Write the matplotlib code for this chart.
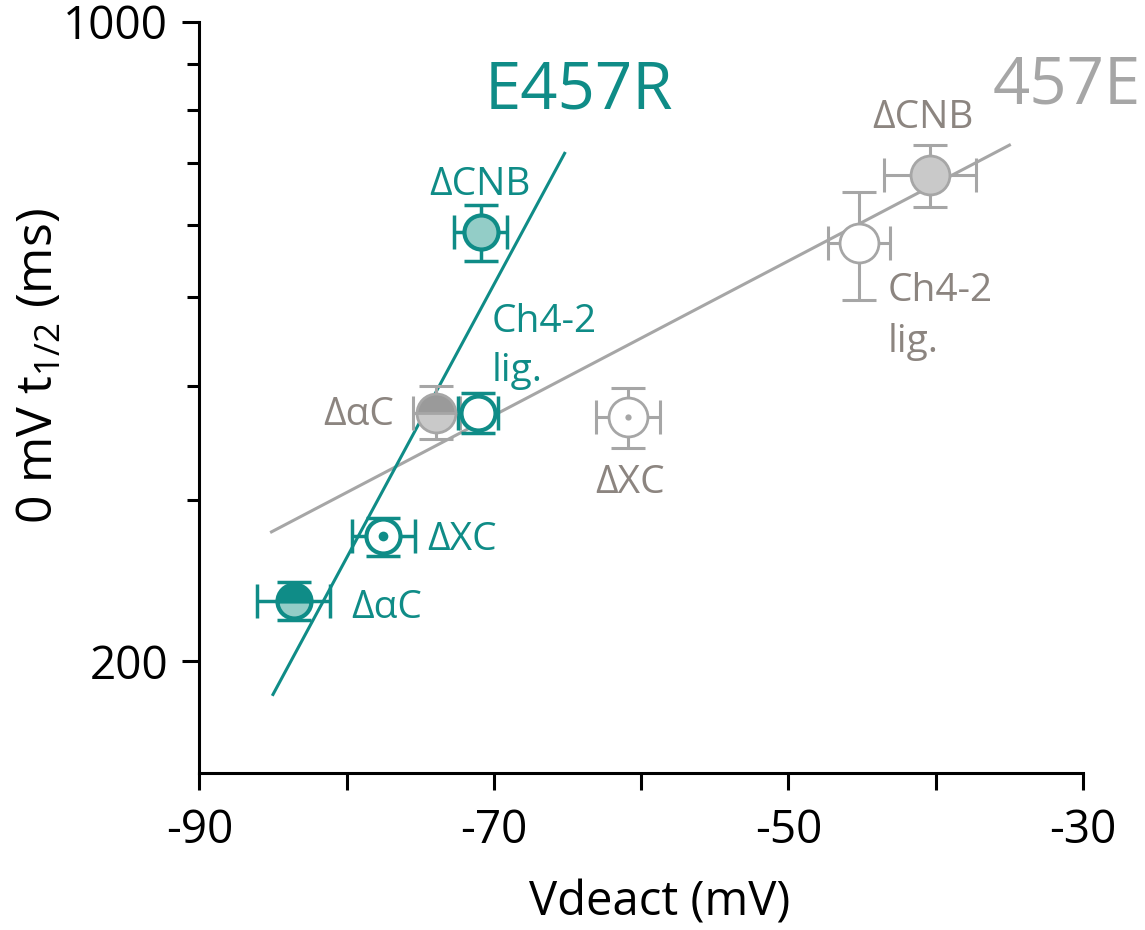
import numpy as np
import matplotlib
matplotlib.use("Agg")
import matplotlib.pyplot as plt
from matplotlib.ticker import FixedLocator, FixedFormatter, NullFormatter

plt.rcParams['font.family'] = ['Open Sans', 'DejaVu Sans']
plt.rcParams['mathtext.fontset'] = 'custom'
plt.rcParams['mathtext.rm'] = 'Open Sans'
plt.rcParams['mathtext.it'] = 'Open Sans'

# E457R (teal): dCNB, Ch4-2 lig., dXC, dalphaC
teal_x = [-70.9, -71.1, -77.5, -83.6]
teal_y = [589, 374, 274, 233]
teal_xerr = [1.8, 1.35, 2.15, 2.5]
teal_ylo = [548, 355, 261, 222]
teal_yhi = [630, 393, 287, 244]
teal_kind = ['filled', 'open', 'dot', 'half']

# 457E (gray): dCNB, Ch4-2 lig., dXC, dalphaC
gray_x = [-40.4, -45.2, -60.9, -73.9]
gray_y = [680, 573, 370, 374]
gray_xerr = [3.1, 2.1, 2.2, 1.6]
gray_ylo = [628, 497, 342, 350]
gray_yhi = [733, 652, 398, 400]
gray_kind = ['filled', 'open', 'dot', 'half']

# fit lines
teal_fit_x = [-85.0, -65.2]
teal_fit_y = [184, 718]
gray_fit_x = [-85.1, -35.0]
gray_fit_y = [277, 733]

TEAL = '#0f8c87'
TEAL_LIGHT = '#93cdc7'
GRAY = '#a6a6a6'
GRAY_DARK = '#9a9a9a'
GRAY_LIGHT = '#c9c9c9'
GRAY_TEXT = '#8c8580'


def draw_points(ax, xs, ys, xerr, ylo, yhi, kinds, edge, fill, dark, ms, mew, elw, cap, dot):
    yerr = [np.array(ys) - np.array(ylo), np.array(yhi) - np.array(ys)]
    ax.errorbar(xs, ys, xerr=xerr, yerr=yerr, fmt='none', ecolor=edge,
                elinewidth=elw, capsize=cap, capthick=elw, zorder=3)
    for x, y, k in zip(xs, ys, kinds):
        if k == 'filled':
            ax.plot(x, y, 'o', ms=ms, mfc=fill, mec=edge, mew=mew, zorder=4)
        elif k == 'half':
            ax.plot(x, y, 'o', ms=ms, fillstyle='top', mfc=dark,
                    markerfacecoloralt=fill, mec=edge, mew=mew, zorder=4)
        else:
            ax.plot(x, y, 'o', ms=ms, mfc='white', mec=edge, mew=mew, zorder=4)
            if k == 'dot':
                ax.plot(x, y, 'o', ms=dot, mfc=edge, mec='none', zorder=5)


fig = plt.figure(figsize=(11.45, 9.30), dpi=100)
ax = fig.add_axes([0.1741, 0.1688, 0.9459 - 0.1741, 0.9767 - 0.1688])

ax.plot(gray_fit_x, gray_fit_y, color=GRAY, lw=2.2, zorder=2)
ax.plot(teal_fit_x, teal_fit_y, color=TEAL, lw=2.2, zorder=2)

draw_points(ax, gray_x, gray_y, gray_xerr, gray_ylo, gray_yhi, gray_kind,
            GRAY, GRAY_LIGHT, GRAY_DARK, 28, 2.0, 2.2, 12, 4.5)
draw_points(ax, teal_x, teal_y, teal_xerr, teal_ylo, teal_yhi, teal_kind,
            TEAL, TEAL_LIGHT, TEAL, 24.5, 3.0, 2.5, 12, 7)

ax.set_yscale('log')
ax.set_xlim(-90, -30)
ax.set_ylim(151, 1000)

ax.yaxis.set_major_locator(FixedLocator([200, 1000]))
ax.yaxis.set_minor_locator(FixedLocator([300, 400, 500, 600, 700, 800, 900]))
ax.yaxis.set_major_formatter(FixedFormatter(['200', '1000']))
ax.yaxis.set_minor_formatter(NullFormatter())
ax.xaxis.set_major_locator(FixedLocator([-90, -70, -50, -30]))
ax.xaxis.set_minor_locator(FixedLocator([-80, -60, -40]))
ax.set_xticklabels(['-90', '-70', '-50', '-30'])

for s in ['top', 'right']:
    ax.spines[s].set_visible(False)
for s in ['left', 'bottom']:
    ax.spines[s].set_linewidth(2.2)
ax.tick_params(axis='both', which='major', length=12.5, width=2.2, labelsize=33)
ax.tick_params(axis='x', which='major', pad=13)
ax.tick_params(axis='y', which='major', pad=10)
ax.tick_params(axis='x', which='minor', length=12.5, width=2.2)
ax.tick_params(axis='y', which='minor', length=8.5, width=2.2)

ax.set_xlabel('Vdeact (mV)', fontsize=34, va='baseline')
ax.xaxis.set_label_coords(0.521, -0.1890)
ax.set_ylabel('0 mV t$_{1/2}$ (ms)', fontsize=36, va='baseline')
ax.yaxis.set_label_coords(-0.1655, 0.542)

# series names
ax.text(-70.62, 804, 'E457R', color=TEAL, fontsize=47, ha='left', va='baseline')
ax.text(-36.15, 813, '457E', color=GRAY, fontsize=47, ha='left', va='baseline')

# teal annotations
ax.text(-70.96, 647, '\u0394CNB', color=TEAL, fontsize=28, ha='center', va='baseline')
ax.text(-70.16, 458.6, 'Ch4-2', color=TEAL, fontsize=28, ha='left', va='baseline')
ax.text(-70.16, 404.4, 'lig.', color=TEAL, fontsize=28, ha='left', va='baseline')
ax.text(-74.55, 264.9, '\u0394XC', color=TEAL, fontsize=28, ha='left', va='baseline')
ax.text(-79.66, 223.0, '\u0394\u03b1C', color=TEAL, fontsize=28, ha='left', va='baseline')

# gray annotations
ax.text(-40.87, 764.8, '\u0394CNB', color=GRAY_TEXT, fontsize=28, ha='center', va='baseline')
ax.text(-43.26, 494.6, 'Ch4-2', color=GRAY_TEXT, fontsize=28, ha='left', va='baseline')
ax.text(-43.26, 435.8, 'lig.', color=GRAY_TEXT, fontsize=28, ha='left', va='baseline')
ax.text(-60.79, 305.4, '\u0394XC', color=GRAY_TEXT, fontsize=28, ha='center', va='baseline')
ax.text(-76.8, 362.6, '\u0394\u03b1C', color=GRAY_TEXT, fontsize=28, ha='right', va='baseline')

fig.savefig('out.png', dpi=100)
